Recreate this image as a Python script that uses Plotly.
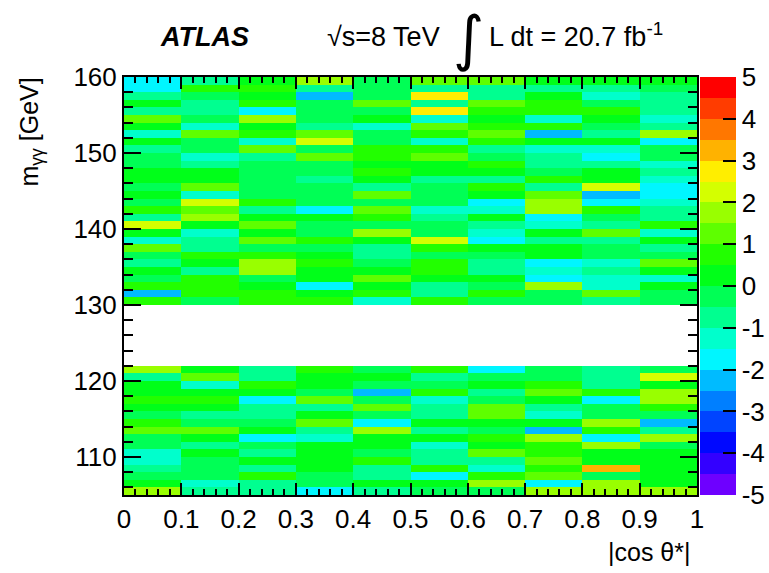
import colorsys
import plotly.graph_objects as go

# |cos theta*| bin edges and m_gg bin edges (1 GeV bins, blinded 122-130 GeV)
cos_edges = [0.0, 0.1, 0.2, 0.3, 0.4, 0.5, 0.6, 0.7, 0.8, 0.9, 1.0]
mass_edges = list(range(105, 161))
cos_ticks = [0.0, 0.1, 0.2, 0.3, 0.4, 0.5, 0.6, 0.7, 0.8, 0.9, 1.0]
cos_ticktext = ["0", "0.1", "0.2", "0.3", "0.4", "0.5", "0.6", "0.7", "0.8", "0.9", "1"]
z_ticks = [-5, -4, -3, -2, -1, 0, 1, 2, 3, 4, 5]
z_ticktext = ["-5", "-4", "-3", "-2", "-1", "0", "1", "2", "3", "4", "5"]

# Significance per bin, upper sideband, rows from 159-160 GeV down to 130-131 GeV
upper_sideband = [
    [-1.75, -0.75, 0.25, 1.75, -0.25, 1.25, 1.25, 0.25, 0.25, 0.25],
    [-1.75, 0.75, 0.75, -0.75, -0.25, -0.75, -0.75, -0.75, -0.75, -0.25],
    [-0.75, -0.25, 0.25, -2.25, -0.25, 2.75, -0.75, 0.25, -1.25, -0.75],
    [0.25, -0.75, 0.75, -0.25, 1.25, -0.75, 1.25, 0.75, -0.25, -0.75],
    [-0.75, -0.75, -1.75, -0.25, -0.25, 2.75, 0.75, 0.75, 0.75, -0.75],
    [1.25, -0.25, 1.75, -0.25, 0.25, -1.25, 0.25, -1.25, 0.25, -1.25],
    [0.25, -1.25, 0.25, -0.75, -1.25, 1.25, 0.75, 0.75, -0.25, -0.75],
    [-1.25, 1.25, 0.75, 1.25, -0.25, 0.75, 1.25, -2.25, -0.75, 1.75],
    [0.25, -0.25, -1.25, 2.25, -0.25, -1.25, 0.75, 0.25, 0.25, -1.75],
    [-0.75, -0.25, 1.25, -0.25, 0.75, 0.75, -0.75, -1.25, -1.25, -0.25],
    [-0.25, -1.25, -0.75, 1.25, 0.75, 1.25, -0.25, -0.75, -1.75, -0.25],
    [-0.25, -0.75, -0.25, -0.25, 0.25, 0.25, 0.75, -0.75, -0.75, -1.25],
    [0.25, 0.25, -0.25, -0.25, 0.75, 0.25, 0.25, -0.25, 0.25, -0.75],
    [0.25, 0.25, -0.25, -0.75, 0.25, -0.75, -0.75, 0.75, 0.25, -1.25],
    [-0.25, 1.25, -0.25, -0.25, -0.75, -0.25, 0.75, -0.75, 2.25, -1.75],
    [0.25, -1.25, -0.25, -0.25, 1.25, -0.25, 0.25, 1.25, -2.25, -1.75],
    [-0.25, 2.25, 0.75, -0.25, -0.25, -0.25, -1.75, 1.75, -1.75, -1.25],
    [0.75, 1.25, -0.75, -1.75, 1.25, -1.25, -1.25, 1.75, 0.75, -0.75],
    [-0.75, 1.75, 0.25, 0.25, 0.75, -0.75, 0.25, -1.75, -0.25, -0.75],
    [2.25, 0.25, 1.25, -0.25, -0.25, -0.25, -0.75, -1.25, -0.75, 0.75],
    [0.25, -1.25, 0.25, -0.25, 1.75, -0.25, -1.25, 0.25, 1.25, -1.25],
    [-1.25, -0.75, 1.25, 0.75, 0.25, 2.25, -1.75, -0.75, -0.75, 0.25],
    [1.25, -0.75, -0.25, -0.25, -0.75, 0.75, 0.25, 0.25, -0.25, -0.75],
    [-0.25, 0.75, 0.75, 0.25, -0.75, -0.25, -0.25, 0.25, -0.25, -0.25],
    [-0.75, 0.25, 1.75, 0.75, -0.25, 0.75, -0.75, -1.75, -1.25, 1.25],
    [0.25, -0.75, 1.75, 0.25, 0.25, 0.75, -0.75, -1.25, -0.75, 0.25],
    [-0.25, 0.75, -0.25, 0.25, 1.25, 0.25, 0.25, -1.75, -1.25, -1.25],
    [0.75, 0.75, 0.25, -1.75, 0.25, -0.75, -0.25, 1.75, -1.25, 0.25],
    [-2.25, 0.75, 0.75, 0.25, 0.75, -0.75, 0.75, -0.25, 1.25, -0.25],
    [0.75, -0.25, 0.75, 0.75, -1.25, 0.75, -0.25, -0.25, -0.75, -0.25],
]

# Lower sideband, rows from 121-122 GeV down to 105-106 GeV
lower_sideband = [
    [1.75, 0.25, -0.75, 0.75, -0.25, 0.75, -1.75, -0.25, -0.75, -0.25],
    [-0.75, 1.25, -0.75, 0.25, 0.25, -0.75, -0.25, -0.25, -0.75, 2.25],
    [0.25, -1.25, 0.75, 0.25, -0.25, -0.25, 0.25, 0.75, -0.75, 0.25],
    [0.25, 0.25, 0.25, -0.25, -2.25, 0.75, -0.75, 1.25, 0.75, 1.75],
    [0.75, 0.75, -1.75, 1.25, -0.25, -1.25, -0.25, 0.25, -1.75, 1.75],
    [0.25, 0.25, -0.75, -0.75, 1.25, -0.75, 1.25, -0.75, -0.25, 0.75],
    [-0.25, -0.75, -0.75, 0.25, -0.25, -0.75, 1.25, -1.25, -0.25, -0.25],
    [0.75, -0.25, -0.25, 1.25, -1.75, 0.25, 0.25, 0.25, 1.75, -2.25],
    [1.25, 1.25, 0.25, -0.75, 1.75, -0.75, -0.25, -2.25, 0.75, -0.75],
    [-0.25, 0.25, -1.75, -1.25, 0.25, 0.25, 0.75, 1.75, -1.75, 1.75],
    [-0.25, -0.75, -0.25, 0.25, 0.25, -1.25, 0.25, 0.75, 1.75, -0.25],
    [-1.25, 0.25, -0.75, 0.25, -0.25, -0.75, 1.25, 0.75, 0.25, 0.25],
    [-1.25, -0.25, 0.25, 0.25, 0.75, -0.75, -0.75, 1.25, 0.25, 0.25],
    [-0.75, -0.25, -0.75, 0.25, -0.75, 0.75, -1.25, 0.75, 3.25, 0.25],
    [-0.25, -0.25, 0.75, -0.25, -0.75, -1.75, 0.75, 1.25, -0.25, 0.25],
    [0.25, -1.25, -0.75, -0.25, 0.25, 0.25, 1.75, -1.75, 1.75, 0.25],
    [1.75, -0.75, -0.75, -1.75, -0.75, -0.25, -0.25, 1.75, 1.75, 1.75],
]

# Signal region left blind (no entries drawn)
n_blind_rows = 8

z = (
    lower_sideband[::-1]
    + [[None] * len(cos_edges[:-1]) for _ in range(n_blind_rows)]
    + upper_sideband[::-1]
)

# 20-level violet-to-red spectrum palette
n_levels = 20
colorscale = []
for i in range(n_levels):
    hue = 14 * (n_levels - 1 - i) / 360.0
    r, g, b = colorsys.hls_to_rgb(hue, 0.5, 1.0)
    col = "rgb({},{},{})".format(int(round(r * 255)), int(round(g * 255)), int(round(b * 255)))
    colorscale.append([i / n_levels, col])
    colorscale.append([(i + 1) / n_levels, col])

FONT = "Liberation Sans, Arial, Helvetica, sans-serif"

fig = go.Figure(
    go.Heatmap(
        x=cos_edges,
        y=mass_edges,
        z=z,
        zmin=-5,
        zmax=5,
        colorscale=colorscale,
        zsmooth=False,
        hoverongaps=False,
        colorbar=dict(
            x=1.005,
            xanchor="left",
            xpad=0,
            y=0.5,
            yanchor="middle",
            len=1.0,
            lenmode="fraction",
            ypad=0,
            thickness=36,
            outlinewidth=0,
            ticks="inside",
            ticklen=13,
            tickwidth=2,
            tickcolor="black",
            tickvals=z_ticks,
            ticktext=z_ticktext,
            tickfont=dict(family=FONT, size=26, color="black"),
        ),
    )
)

fig.update_xaxes(
    range=[0, 1],
    tickvals=cos_ticks,
    ticktext=cos_ticktext,
    ticks="inside",
    ticklen=12,
    tickwidth=2,
    tickcolor="black",
    showline=True,
    linewidth=2,
    linecolor="black",
    mirror="ticks",
    showgrid=False,
    zeroline=False,
    tickfont=dict(family=FONT, size=26, color="black"),
    minor=dict(dtick=0.02, ticks="inside", ticklen=6, tickwidth=2, tickcolor="black", showgrid=False),
)

fig.update_yaxes(
    range=[105, 160],
    tick0=110,
    dtick=10,
    ticks="inside",
    ticklen=17,
    tickwidth=2,
    tickcolor="black",
    showline=True,
    linewidth=2,
    linecolor="black",
    mirror="ticks",
    showgrid=False,
    zeroline=False,
    tickfont=dict(family=FONT, size=26, color="black"),
    minor=dict(dtick=2, ticks="inside", ticklen=9, tickwidth=2, tickcolor="black", showgrid=False),
)

L, R, T, B = 124, 72, 77, 78
W, H = 769, 573
pw, ph = W - L - R, H - T - B


def px(xp):
    return (xp - L) / pw


def py(yp):
    return (H - B - yp) / ph


annotations = [
    dict(text="<b><i>ATLAS</i></b>", x=px(158), y=py(37), xanchor="left", yanchor="middle",
         font=dict(family=FONT, size=27, color="black")),
    dict(text="√s=8 TeV", x=px(325), y=py(37), xanchor="left", yanchor="middle",
         font=dict(family=FONT, size=27, color="black")),
    dict(text="∫", x=px(468), y=py(38), xanchor="center", yanchor="middle",
         font=dict(family="DejaVu Sans", size=60, color="black")),
    dict(text="L dt = 20.7 fb<sup>-1</sup>", x=px(487), y=py(35), xanchor="left", yanchor="middle",
         font=dict(family=FONT, size=27, color="black")),
    dict(text="|cos θ*|", x=px(692), y=py(552), xanchor="right", yanchor="middle",
         font=dict(family=FONT, size=25, color="black")),
    dict(text="m<sub>γγ</sub> [GeV]", x=px(31), y=py(76), xanchor="center", yanchor="top",
         textangle=-90, font=dict(family=FONT, size=25, color="black")),
]
for a in annotations:
    a.update(xref="paper", yref="paper", showarrow=False)

fig.update_layout(
    width=W,
    height=H,
    margin=dict(l=L, r=R, t=T, b=B, pad=0, autoexpand=False),
    paper_bgcolor="white",
    plot_bgcolor="white",
    annotations=annotations,
    font=dict(family=FONT, color="black"),
)

fig.write_html("out.html")
